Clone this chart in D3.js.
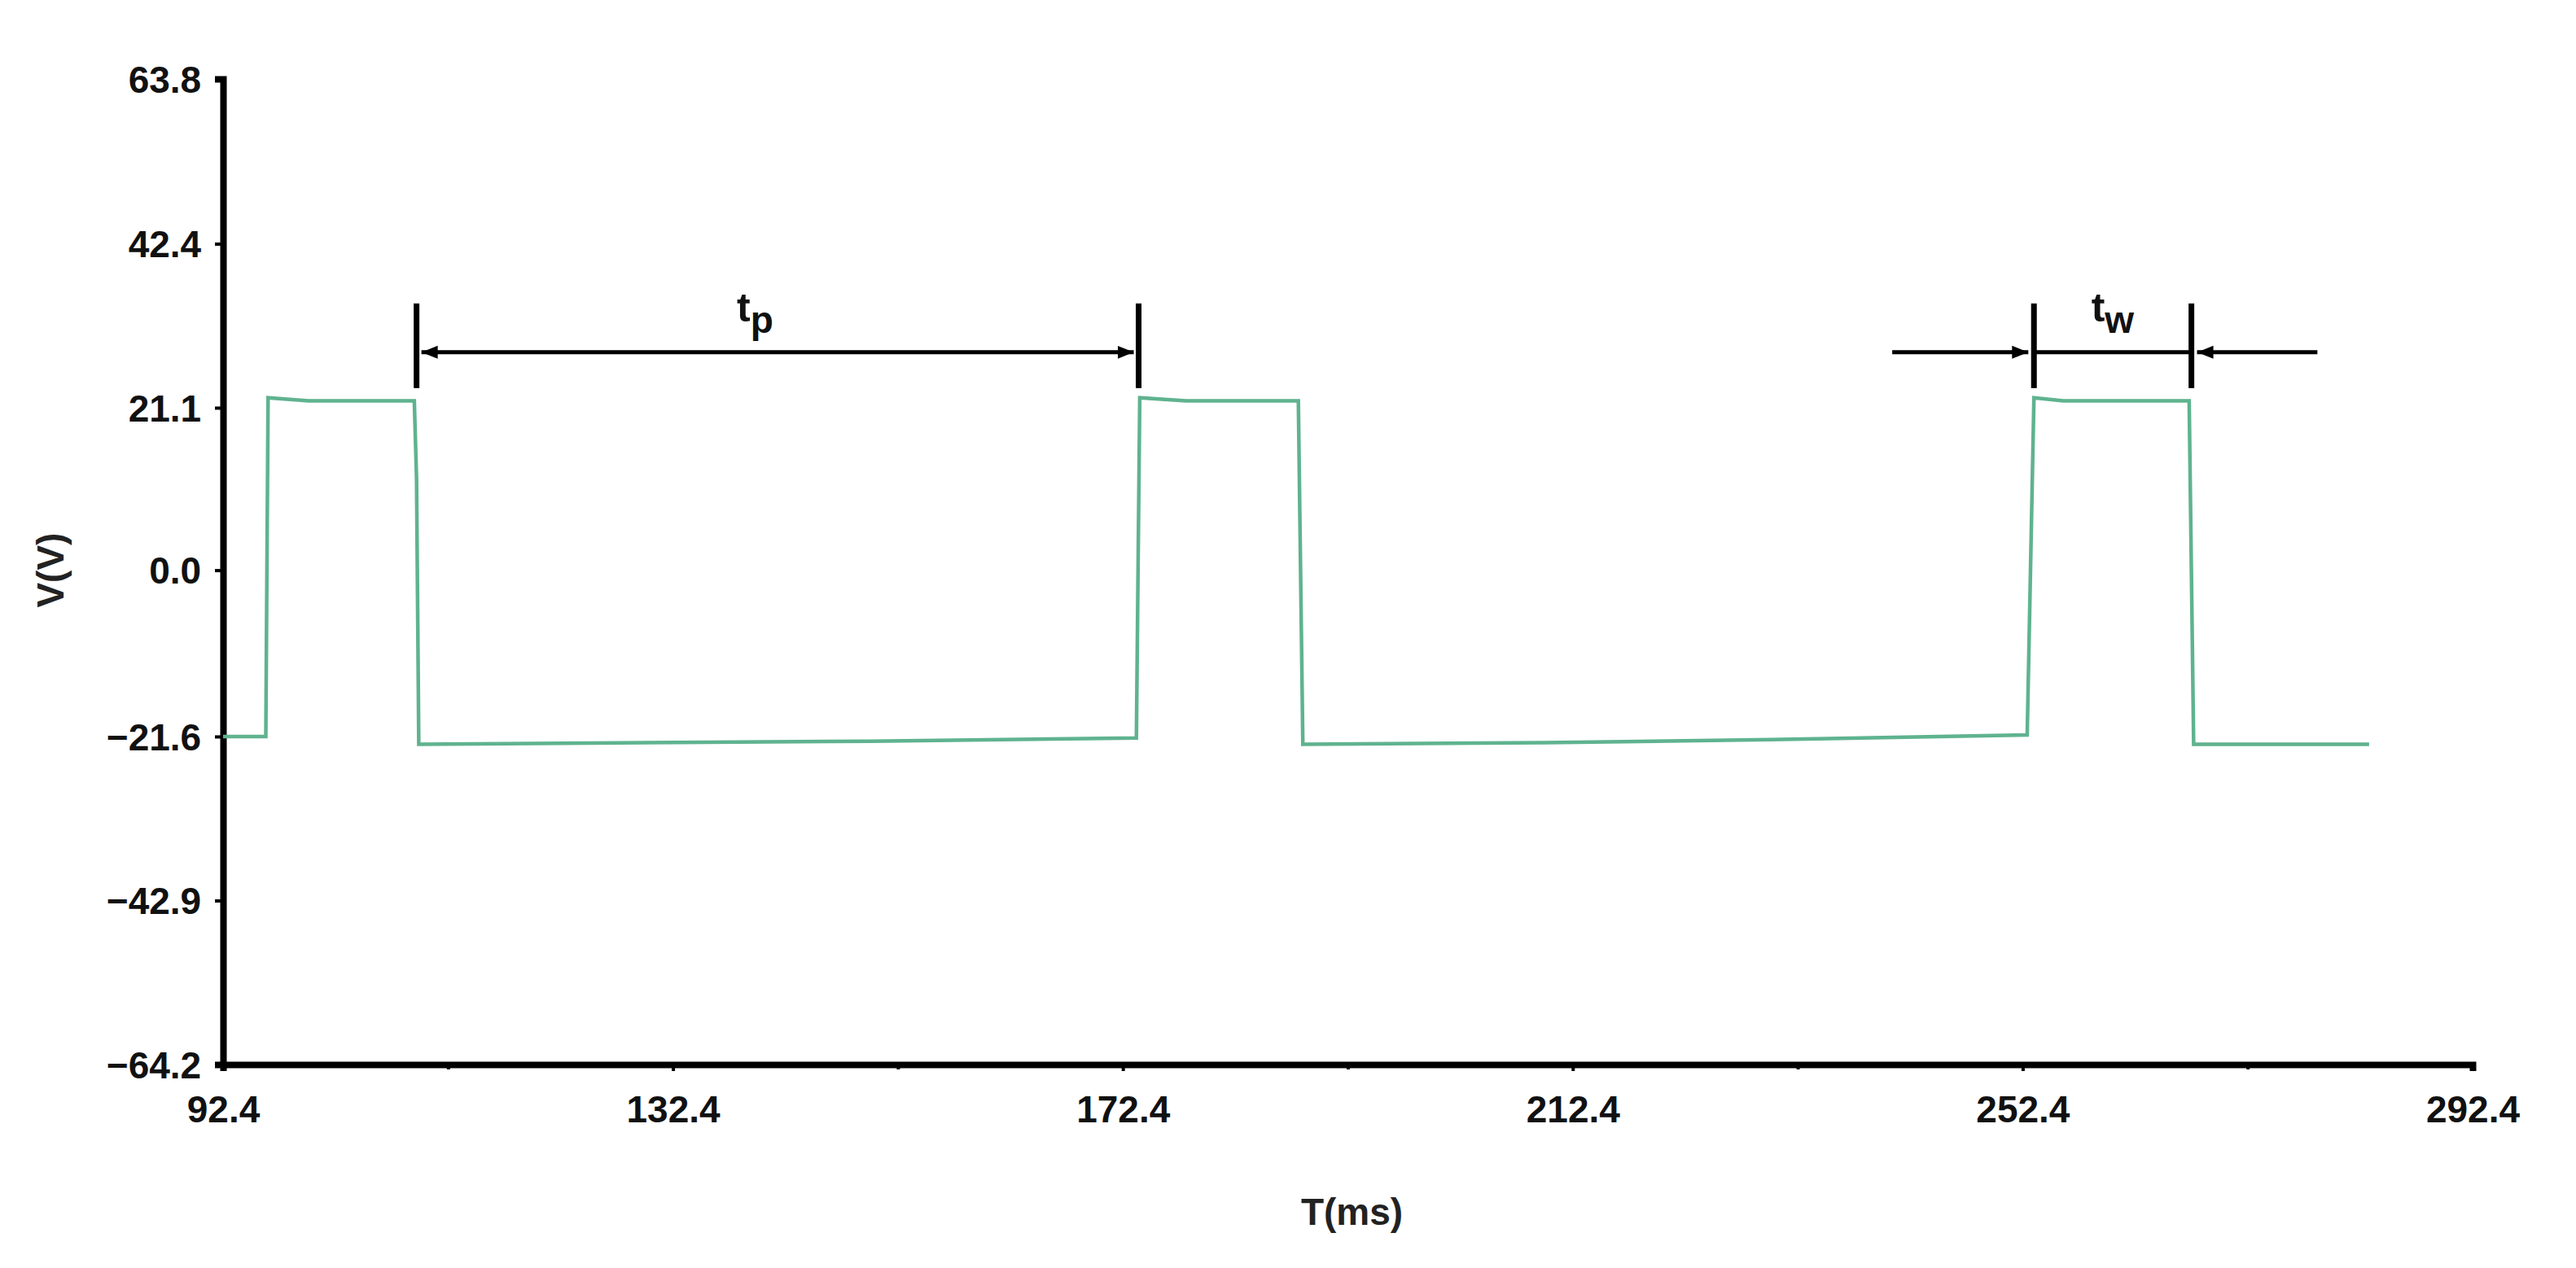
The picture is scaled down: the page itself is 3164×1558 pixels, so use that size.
<!DOCTYPE html>
<html>
<head>
<meta charset="utf-8">
<script src="https://cdn.jsdelivr.net/npm/d3@7"></script>
<style>
  body { margin: 0; background: #fff; }
  text { font-family: "Liberation Sans", Arial, sans-serif; font-weight: bold; }
</style>
</head>
<body>
<svg id="chart"></svg>
<script>
// Tick labels
const yTicks = [63.8, 42.4, 21.1, 0.0, -21.6, -42.9, -64.2];
const xTicks = [92.4, 132.4, 172.4, 212.4, 252.4, 292.4];
const xMinorTicks = [112.4, 152.4, 192.4, 232.4, 272.4];

// Signal trace: time (ms), voltage (V)
const traceT = [92.4, 96.2, 96.4, 100.0, 109.4, 109.6, 109.8, 130, 150, 173.6, 173.9, 178, 188.0, 188.4, 210, 230, 252.8, 253.4, 256, 267.2, 267.6, 283.2];
const traceV = [-21.6, -21.6, 22.4, 22.0, 22.0, 12.0, -22.6, -22.4, -22.2, -21.8, 22.4, 22.0, 22.0, -22.6, -22.4, -22.0, -21.4, 22.4, 22.0, 22.0, -22.6, -22.6];

// Annotation markers
const tpStart = 109.6, tpEnd = 173.8, tpLevel = 28.3;
const twStart = 253.4, twEnd = 267.4, twLevel = 28.3;
const twOuterLeft = 240.8, twOuterRight = 278.6;

const W = 3164, H = 1558;
const margin = { left: 274, right: W - 3037, top: 97, bottom: H - 1308 };

const svg = d3.select("#chart").attr("width", W).attr("height", H);

const x = d3.scaleLinear().domain([92.4, 292.4]).range([margin.left, W - margin.right]);
const y = d3.scaleLinear().domain([-64.2, 63.8]).range([H - margin.bottom, margin.top]);

// Arrow markers
const defs = svg.append("defs");
defs.append("marker")
  .attr("id", "arrow")
  .attr("viewBox", "0 0 10 10")
  .attr("refX", 10).attr("refY", 5)
  .attr("markerWidth", 4).attr("markerHeight", 4)
  .attr("orient", "auto-start-reverse")
  .append("path").attr("d", "M0,1 L10,5 L0,9 Z").attr("fill", "#000");

// Axes
const xAxis = svg.append("g")
  .attr("transform", `translate(0,${y(-64.2)})`)
  .call(d3.axisBottom(x).tickValues(xTicks).tickSize(8).tickFormat(d3.format(".1f")));
svg.append("g")
  .attr("transform", `translate(0,${y(-64.2)})`)
  .call(d3.axisBottom(x).tickValues(xMinorTicks).tickSize(6).tickFormat(""))
  .call(g => g.select(".domain").remove());

const yAxis = svg.append("g")
  .attr("transform", `translate(${x(92.4)},0)`)
  .call(d3.axisLeft(y).tickValues(yTicks).tickSize(10)
    .tickFormat(d => d < 0 ? "\u2212" + d3.format(".1f")(-d) : d3.format(".1f")(d)));

[xAxis, yAxis].forEach(g => {
  g.select(".domain").attr("stroke", "#000").attr("stroke-width", 8);
  g.selectAll(".tick line").attr("stroke", "#000").attr("stroke-width", 4);
  g.selectAll(".tick text").attr("fill", "#111").style("font-size", "46px");
});
svg.selectAll(".tick line").attr("stroke", "#000").attr("stroke-width", 4);
xAxis.selectAll(".tick text").attr("dy", "1.3em");
yAxis.selectAll(".tick text").attr("dx", "-0.3em").attr("dy", "0.35em");

// Axis titles
svg.append("text")
  .attr("x", (x(92.4) + x(292.4)) / 2 + 5).attr("y", 1505)
  .attr("text-anchor", "middle").style("font-size", "46px").attr("fill", "#222")
  .text("T(ms)");
svg.append("text")
  .attr("transform", `translate(78,${y(0)}) rotate(-90)`)
  .attr("text-anchor", "middle").style("font-size", "46px").attr("fill", "#222")
  .text("V(V)");

// Trace
const line = d3.line().x(d => x(d[0])).y(d => y(d[1]));
svg.append("path")
  .datum(d3.zip(traceT, traceV))
  .attr("d", line)
  .attr("fill", "none")
  .attr("stroke", "#5fb38f")
  .attr("stroke-width", 4.5);

// Annotations
const ann = svg.append("g").attr("stroke", "#000");
function bar(t, lvl) {
  ann.append("line")
    .attr("x1", x(t)).attr("x2", x(t))
    .attr("y1", y(lvl) - 60).attr("y2", y(lvl) + 44)
    .attr("stroke-width", 7);
}
function arrow(t0, t1, lvl) {
  ann.append("line")
    .attr("x1", x(t0)).attr("x2", x(t1))
    .attr("y1", y(lvl)).attr("y2", y(lvl))
    .attr("stroke-width", 5)
    .attr("marker-end", "url(#arrow)");
}
bar(tpStart, tpLevel); bar(tpEnd, tpLevel);
ann.append("line")
  .attr("x1", x(tpStart) + 6).attr("x2", x(tpEnd) - 6)
  .attr("y1", y(tpLevel)).attr("y2", y(tpLevel))
  .attr("stroke-width", 5)
  .attr("marker-start", "url(#arrow)").attr("marker-end", "url(#arrow)");

bar(twStart, twLevel); bar(twEnd, twLevel);
arrow(twOuterLeft, twStart - 0.5, twLevel);
arrow(twOuterRight, twEnd + 0.5, twLevel);
ann.append("line")
  .attr("x1", x(twStart)).attr("x2", x(twEnd))
  .attr("y1", y(twLevel)).attr("y2", y(twLevel))
  .attr("stroke-width", 5);

function subLabel(t, lvl, sub) {
  const tx = svg.append("text")
    .attr("x", x(t)).attr("y", y(lvl) - 38)
    .attr("text-anchor", "middle").attr("fill", "#111").style("font-size", "50px");
  tx.append("tspan").text("t");
  tx.append("tspan").attr("dy", 14).style("font-size", "46px").text(sub);
}
subLabel((tpStart + tpEnd) / 2 - 2, tpLevel, "p");
subLabel((twStart + twEnd) / 2, twLevel, "w");
</script>
</body>
</html>
